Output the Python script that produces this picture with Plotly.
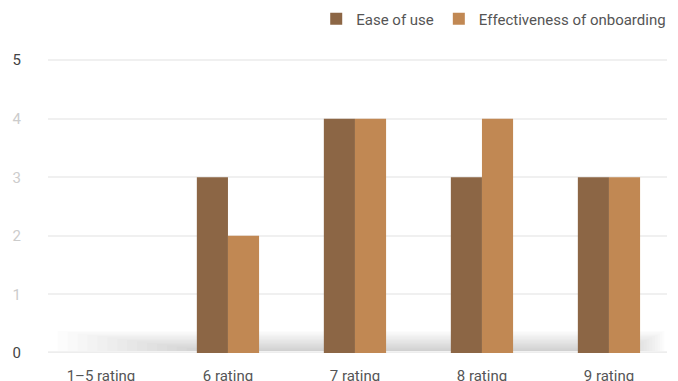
import plotly.graph_objects as go

categories = ["1–5 rating", "6 rating", "7 rating", "8 rating", "9 rating"]
ease_of_use = [0, 3, 4, 3, 3]
onboarding = [0, 2, 4, 4, 3]
y_ticks = [0, 1, 2, 3, 4, 5]
y_tick_colors = ["#444444", "#cccccc", "#cccccc", "#cccccc", "#cccccc", "#444444"]

FONT = "Roboto, sans-serif"

fig = go.Figure()
fig.add_trace(go.Bar(name="Ease of use", x=categories, y=ease_of_use,
                     marker=dict(color="#8c6645", line=dict(width=0))))
fig.add_trace(go.Bar(name="Effectiveness of onboarding", x=categories, y=onboarding,
                     marker=dict(color="#c18853", line=dict(width=0))))

# soft shadow along the baseline
shapes = []
N = 16
H = 0.36
for i in range(1, N + 1):
    t = i / N
    shapes.append(dict(type="rect", xref="x", yref="y", layer="below",
                       x0=-0.42 + 1.25 * t, x1=4.45 - 0.35 * t ** 1.2,
                       y0=0.03, y1=0.03 + H * (1 - t) + 0.012,
                       fillcolor="rgba(0,0,0,0.013)", line=dict(width=0)))
shapes.append(dict(type="line", xref="paper", yref="y", layer="below",
                   x0=0, x1=1, y0=0.012, y1=0.012,
                   line=dict(color="rgba(0,0,0,0.07)", width=2)))

fig.update_layout(
    width=678, height=381,
    margin=dict(l=48, r=11, t=59, b=28, autoexpand=False),
    paper_bgcolor="white", plot_bgcolor="white",
    barmode="group", bargap=0.51, bargroupgap=0,
    font=dict(family=FONT, size=15, color="#555555"),
    showlegend=True,
    legend=dict(orientation="h", xref="container", yref="container",
                xanchor="right", x=0.99, yanchor="middle", y=1 - 19 / 381,
                font=dict(family=FONT, size=15, color="#555555"),
                itemwidth=30, traceorder="normal"),
    shapes=shapes,
    xaxis=dict(type="category", range=[-0.417, 4.457], showgrid=False, zeroline=False,
               showline=False, ticks="", ticklabelstandoff=12,
               tickfont=dict(family=FONT, size=15, color="#555555")),
    yaxis=dict(range=[0, 5.02], tickvals=y_ticks,
               ticktext=[f'<span style="color:{c}">{v}</span>' for v, c in zip(y_ticks, y_tick_colors)],
               showgrid=True, gridcolor="#f0f0f0", gridwidth=1.5, zeroline=False,
               showline=False, ticks="", ticklabelstandoff=26,
               tickfont=dict(family=FONT, size=15, color="#444444")),
)

fig.write_html("out.html")
